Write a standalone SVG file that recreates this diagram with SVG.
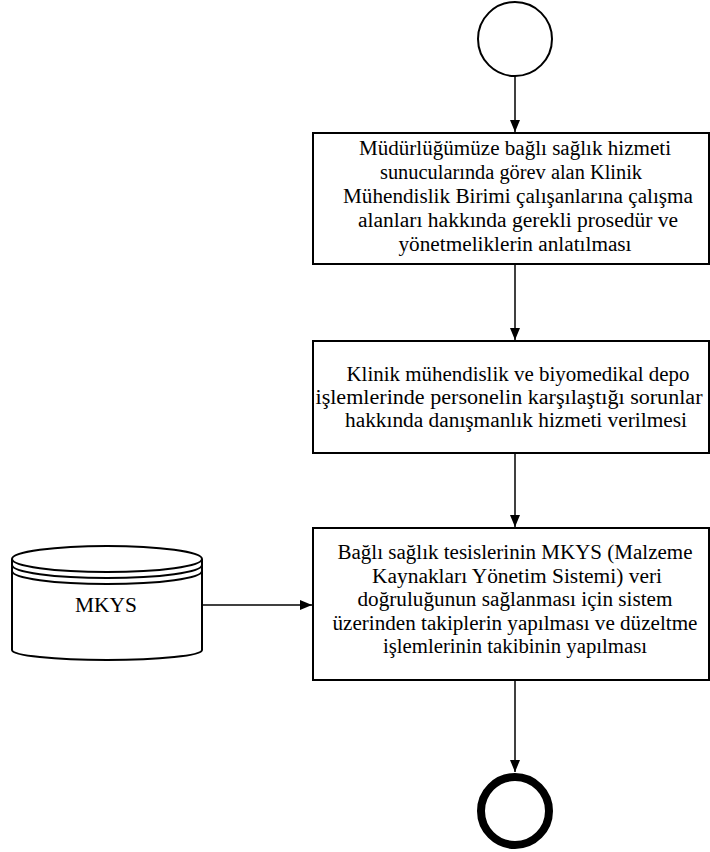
<svg xmlns="http://www.w3.org/2000/svg" width="710" height="852" viewBox="0 0 710 852">
  <defs>
    <marker id="arrow" viewBox="0 0 12 10" refX="12" refY="5" markerWidth="12" markerHeight="10" markerUnits="userSpaceOnUse" orient="auto">
      <path d="M0,0 L12,5 L0,10 Z" fill="#000"/>
    </marker>
    <style>
      .box { fill: #fff; stroke: #000; stroke-width: 2; }
      .edge { fill: none; stroke: #000; stroke-width: 1.5; marker-end: url(#arrow); }
      text { font-family: "Liberation Serif", "DejaVu Serif", serif; font-size: 20px; fill: #000; text-anchor: middle; }
    </style>
  </defs>
  <rect width="710" height="852" fill="#fff"/>

  <g id="connectors">
    <line class="edge" x1="515" y1="76" x2="515" y2="132"/>
    <line class="edge" x1="515" y1="265" x2="515" y2="340"/>
    <line class="edge" x1="515" y1="453" x2="515" y2="527"/>
    <line class="edge" x1="515" y1="681" x2="515" y2="772"/>
    <line class="edge" x1="202" y1="605" x2="312" y2="605"/>
  </g>

  <g id="start">
    <circle cx="515" cy="39" r="37" fill="#fff" stroke="#000" stroke-width="2"/>
  </g>

  <g id="step1">
    <rect class="box" x="313" y="133" width="396" height="131"/>
    <text x="515" y="155" textLength="312" lengthAdjust="spacingAndGlyphs">Müdürlüğümüze bağlı sağlık hizmeti</text>
    <text x="511" y="179" textLength="262" lengthAdjust="spacingAndGlyphs">sunucularında görev alan Klinik</text>
    <text x="518" y="203" textLength="350" lengthAdjust="spacingAndGlyphs">Mühendislik Birimi çalışanlarına çalışma</text>
    <text x="518" y="227" textLength="320" lengthAdjust="spacingAndGlyphs">alanları hakkında gerekli prosedür ve</text>
    <text x="515" y="251" textLength="233" lengthAdjust="spacingAndGlyphs">yönetmeliklerin anlatılması</text>
  </g>

  <g id="step2">
    <rect class="box" x="313" y="341" width="396" height="112"/>
    <text x="518" y="381" textLength="343" lengthAdjust="spacingAndGlyphs">Klinik mühendislik ve biyomedikal depo</text>
    <text x="509" y="404" textLength="387" lengthAdjust="spacingAndGlyphs">işlemlerinde personelin karşılaştığı sorunlar</text>
    <text x="516" y="427" textLength="342" lengthAdjust="spacingAndGlyphs">hakkında danışmanlık hizmeti verilmesi</text>
  </g>

  <g id="step3">
    <rect class="box" x="313" y="528" width="396" height="152"/>
    <text x="515" y="559" textLength="355" lengthAdjust="spacingAndGlyphs">Bağlı sağlık tesislerinin MKYS (Malzeme</text>
    <text x="517" y="583" textLength="290" lengthAdjust="spacingAndGlyphs">Kaynakları Yönetim Sistemi) veri</text>
    <text x="515" y="606" textLength="315" lengthAdjust="spacingAndGlyphs">doğruluğunun sağlanması için sistem</text>
    <text x="515" y="630" textLength="365" lengthAdjust="spacingAndGlyphs">üzerinden takiplerin yapılması ve düzeltme</text>
    <text x="515" y="653" textLength="264" lengthAdjust="spacingAndGlyphs">işlemlerinin takibinin yapılması</text>
  </g>

  <g id="mkys">
    <path d="M12,559 L12,650 A95,10 0 0 0 202,650 L202,559" fill="#fff" stroke="#000" stroke-width="2"/>
    <ellipse cx="107" cy="559" rx="95" ry="13" fill="#fff" stroke="#000" stroke-width="2"/>
    <path d="M12,565 A95,13 0 0 0 202,565" fill="none" stroke="#000" stroke-width="2"/>
    <path d="M12,571 A95,13 0 0 0 202,571" fill="none" stroke="#000" stroke-width="2"/>
    <text x="106" y="612" textLength="62" lengthAdjust="spacingAndGlyphs">MKYS</text>
  </g>

  <g id="end">
    <circle cx="515" cy="811" r="34" fill="#fff" stroke="#000" stroke-width="8"/>
  </g>
</svg>
